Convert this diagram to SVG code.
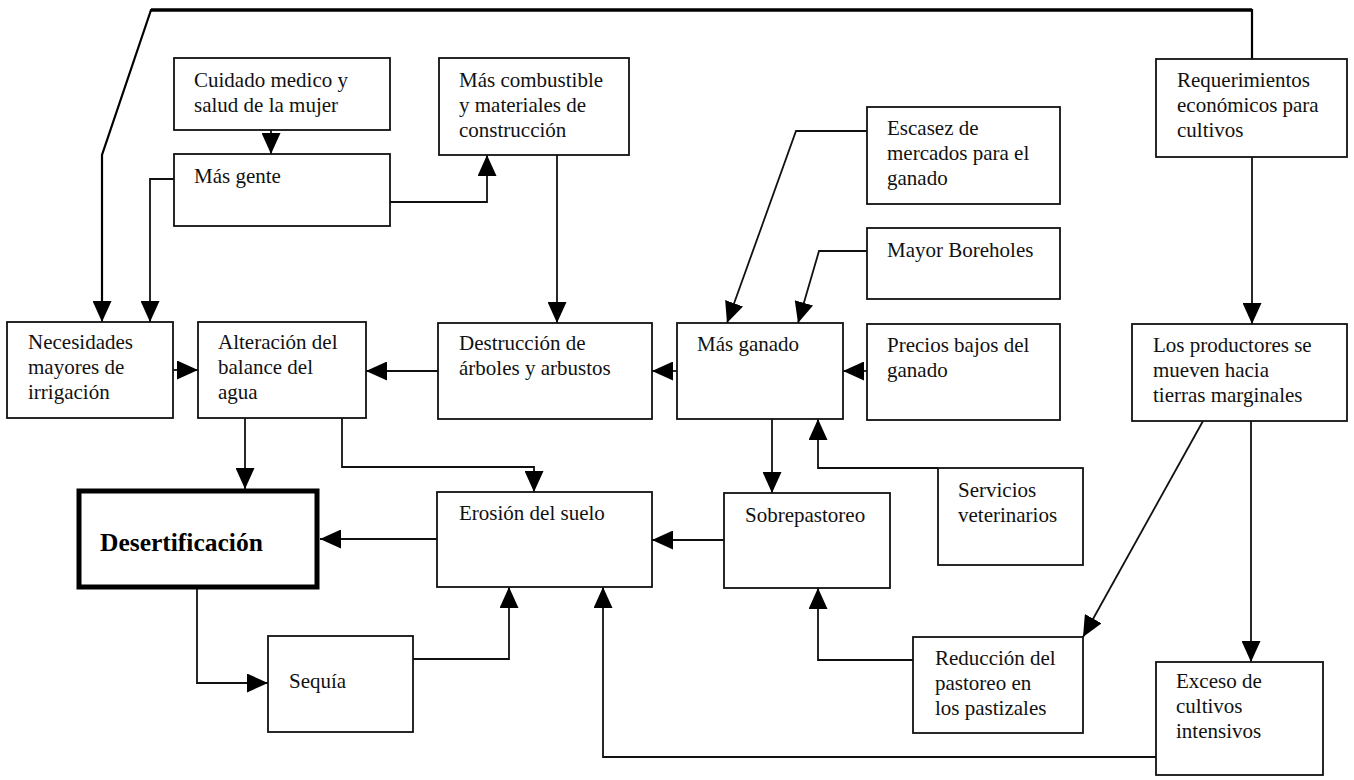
<svg xmlns="http://www.w3.org/2000/svg" width="1354" height="780" viewBox="0 0 1354 780">
  <style>
    .box { fill: #fff; stroke: #111; stroke-width: 1.8; }
    .main { fill: #fff; stroke: #000; stroke-width: 5; }
    .lbl { font-family: "Liberation Serif", "Times New Roman", serif; font-size: 21px; fill: #111; }
    .big { font-family: "Liberation Serif", "Times New Roman", serif; font-size: 25.5px; font-weight: bold; fill: #000; }
    .wire { fill: none; stroke: #111; stroke-width: 1.8; marker-end: url(#arrow); }
    .loop { fill: none; stroke: #000; stroke-width: 2.2; stroke-linejoin: miter; }
  </style>
  <defs>
    <marker id="arrow" markerUnits="userSpaceOnUse" markerWidth="21" markerHeight="19" viewBox="0 0 21 19" refX="21" refY="9.5" orient="auto">
      <path d="M0,0 L21,9.5 L0,19 z" fill="#000"/>
    </marker>
  </defs>

  <rect width="1354" height="780" fill="#fff"/>

  <!-- connectors -->
  <g id="connectors">
    <path class="loop" d="M1252,59 V10 H151 L102,155 V302"/>
    <line x1="151" y1="10" x2="1252" y2="10" stroke="#000" stroke-width="3.5"/>
    <path class="wire" d="M102,300 V322"/>
    <path class="wire" d="M271,130 V154"/>
    <path class="wire" d="M390,202 H487 V155"/>
    <path class="wire" d="M174,179 H150 V322"/>
    <path class="wire" d="M557,155 V323"/>
    <path class="wire" d="M867,131 H796 L727,323"/>
    <path class="wire" d="M867,251 H819 L798,323"/>
    <path class="wire" d="M867,371 H843"/>
    <path class="wire" d="M1252,157 V324"/>
    <path class="wire" d="M173,370 H198"/>
    <path class="wire" d="M438,371 H366"/>
    <path class="wire" d="M677,371 H652"/>
    <path class="wire" d="M245,418 V489"/>
    <path class="wire" d="M342,418 V467 H534 V492"/>
    <path class="wire" d="M437,539 H320"/>
    <path class="wire" d="M724,540 H652"/>
    <path class="wire" d="M772,419 V493"/>
    <path class="wire" d="M938,468 H818 V419"/>
    <path class="wire" d="M197,589 V683 H268"/>
    <path class="wire" d="M413,659 H509 V587"/>
    <path class="wire" d="M1156,757 H603 V587"/>
    <path class="wire" d="M913,660 H818 V588"/>
    <path class="wire" d="M1203,421 L1083,637"/>
    <path class="wire" d="M1251,421 V662"/>
  </g>

  <!-- nodes -->
  <g id="cuidado">
    <rect class="box" x="174" y="58" width="216" height="72"/>
    <text class="lbl" x="194" y="87">Cuidado medico y</text>
    <text class="lbl" x="194" y="112">salud de la mujer</text>
  </g>
  <g id="gente">
    <rect class="box" x="174" y="154" width="216" height="72"/>
    <text class="lbl" x="194" y="183">Más gente</text>
  </g>
  <g id="combustible">
    <rect class="box" x="439" y="58" width="190" height="97"/>
    <text class="lbl" x="459" y="87">Más combustible</text>
    <text class="lbl" x="459" y="112">y materiales de</text>
    <text class="lbl" x="459" y="137">construcción</text>
  </g>
  <g id="escasez">
    <rect class="box" x="867" y="107" width="193" height="97"/>
    <text class="lbl" x="887" y="135">Escasez de</text>
    <text class="lbl" x="887" y="160">mercados para el</text>
    <text class="lbl" x="887" y="185">ganado</text>
  </g>
  <g id="boreholes">
    <rect class="box" x="867" y="228" width="193" height="71"/>
    <text class="lbl" x="887" y="257">Mayor Boreholes</text>
  </g>
  <g id="precios">
    <rect class="box" x="867" y="324" width="193" height="96"/>
    <text class="lbl" x="887" y="352">Precios bajos del</text>
    <text class="lbl" x="887" y="377">ganado</text>
  </g>
  <g id="requerimientos">
    <rect class="box" x="1156" y="59" width="191" height="98"/>
    <text class="lbl" x="1177" y="87">Requerimientos</text>
    <text class="lbl" x="1177" y="112">económicos para</text>
    <text class="lbl" x="1177" y="137">cultivos</text>
  </g>
  <g id="productores">
    <rect class="box" x="1132" y="324" width="215" height="97"/>
    <text class="lbl" x="1153" y="352">Los productores se</text>
    <text class="lbl" x="1153" y="377">mueven hacia</text>
    <text class="lbl" x="1153" y="402">tierras marginales</text>
  </g>
  <g id="necesidades">
    <rect class="box" x="7" y="322" width="166" height="96"/>
    <text class="lbl" x="28" y="349">Necesidades</text>
    <text class="lbl" x="28" y="374">mayores de</text>
    <text class="lbl" x="28" y="399">irrigación</text>
  </g>
  <g id="alteracion">
    <rect class="box" x="198" y="322" width="168" height="96"/>
    <text class="lbl" x="218" y="349">Alteración del</text>
    <text class="lbl" x="218" y="374">balance del</text>
    <text class="lbl" x="218" y="399">agua</text>
  </g>
  <g id="destruccion">
    <rect class="box" x="438" y="323" width="214" height="96"/>
    <text class="lbl" x="459" y="350">Destrucción de</text>
    <text class="lbl" x="459" y="375">árboles y arbustos</text>
  </g>
  <g id="ganado">
    <rect class="box" x="677" y="323" width="166" height="96"/>
    <text class="lbl" x="697" y="351">Más ganado</text>
  </g>
  <g id="desertificacion">
    <rect class="main" x="79" y="491" width="238" height="96"/>
    <text class="big" x="100" y="551">Desertificación</text>
  </g>
  <g id="erosion">
    <rect class="box" x="437" y="492" width="215" height="95"/>
    <text class="lbl" x="459" y="520">Erosión del suelo</text>
  </g>
  <g id="sobrepastoreo">
    <rect class="box" x="724" y="493" width="166" height="95"/>
    <text class="lbl" x="745" y="522">Sobrepastoreo</text>
  </g>
  <g id="servicios">
    <rect class="box" x="938" y="468" width="145" height="97"/>
    <text class="lbl" x="958" y="497">Servicios</text>
    <text class="lbl" x="958" y="522">veterinarios</text>
  </g>
  <g id="sequia">
    <rect class="box" x="268" y="636" width="145" height="96"/>
    <text class="lbl" x="289" y="688">Sequía</text>
  </g>
  <g id="reduccion">
    <rect class="box" x="913" y="637" width="170" height="96"/>
    <text class="lbl" x="935" y="665">Reducción del</text>
    <text class="lbl" x="935" y="690">pastoreo en</text>
    <text class="lbl" x="935" y="715">los pastizales</text>
  </g>
  <g id="exceso">
    <rect class="box" x="1156" y="662" width="167" height="113"/>
    <text class="lbl" x="1176" y="688">Exceso de</text>
    <text class="lbl" x="1176" y="713">cultivos</text>
    <text class="lbl" x="1176" y="738">intensivos</text>
  </g>
</svg>
